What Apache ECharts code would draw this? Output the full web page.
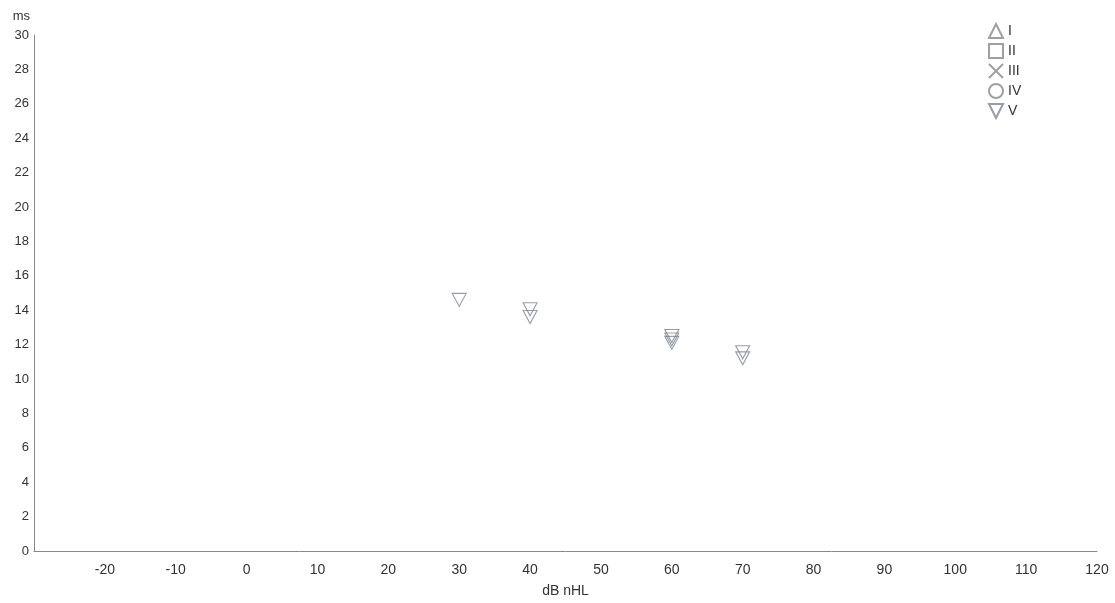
<!DOCTYPE html>
<html><head><meta charset="utf-8">
<script src="https://cdn.jsdelivr.net/npm/echarts@6/dist/echarts.min.js"></script>
<style>html,body{margin:0;padding:0;background:#fff}#c{width:1115px;height:603px}</style>
</head><body><div id="c"></div>
<script>
const seriesNames = ['I', 'II', 'III', 'IV', 'V'];
const waveI = [];
const waveII = [];
const waveIII = [];
const waveIV = [];
const waveV = [[30, 14.6], [40, 14.05], [40, 13.6], [60, 12.5], [60, 12.3], [60, 12.1], [70, 11.55], [70, 11.2]];
const xLabels = [-20, -10, 0, 10, 20, 30, 40, 50, 60, 70, 80, 90, 100, 110, 120];

const symbols = ['triangle', 'rect', 'path://M0,0 L10,10 M10,0 L0,10', 'circle', 'path://M0,0 L10,0 L5,10 Z'];
const dataSets = [waveI, waveII, waveIII, waveIV, waveV];
const chart = echarts.init(document.getElementById('c'));
const txt = '#333';
chart.setOption({
  animation: false,
  backgroundColor: '#fff',
  grid: {left: 34, right: 18, top: 35, bottom: 52},
  legend: {
    orient: 'vertical', left: 983, top: 18, itemWidth: 14, itemHeight: 14, itemGap: 4,
    textStyle: {color: txt, fontSize: 14, fontFamily: 'Liberation Sans'},
    data: seriesNames.map((n, i) => ({name: n, icon: symbols[i]}))
  },
  xAxis: {
    type: 'value', min: -30, max: 120, interval: 10,
    name: 'dB nHL', nameLocation: 'middle', nameGap: 33,
    nameTextStyle: {color: txt, fontSize: 14, fontFamily: 'Liberation Sans'},
    axisLine: {show: true, onZero: false, lineStyle: {color: '#888'}},
    axisTick: {show: false}, splitLine: {show: false},
    axisLabel: {color: txt, fontSize: 14, fontFamily: 'Liberation Sans', margin: 12,
      formatter: v => xLabels.includes(v) ? String(v) : ''}
  },
  yAxis: {
    type: 'value', min: 0, max: 30, interval: 2,
    name: 'ms', nameLocation: 'end', nameGap: 12,
    nameTextStyle: {color: txt, fontSize: 13, fontFamily: 'Liberation Sans', align: 'right', padding: [0, 4, 0, 0]},
    axisLine: {show: true, onZero: false, lineStyle: {color: '#888'}},
    axisTick: {show: false}, splitLine: {show: false},
    axisLabel: {color: txt, fontSize: 13, fontFamily: 'Liberation Sans', margin: 5}
  },
  series: seriesNames.map((n, i) => ({
    name: n, type: 'scatter', symbol: symbols[i], symbolSize: i === 4 ? [14, 13] : 13,
    data: dataSets[i],
    itemStyle: {color: 'rgba(0,0,0,0)', borderColor: i === 4 ? '#7d8594' : '#888', borderWidth: 1.1}
  }))
});
</script></body></html>
